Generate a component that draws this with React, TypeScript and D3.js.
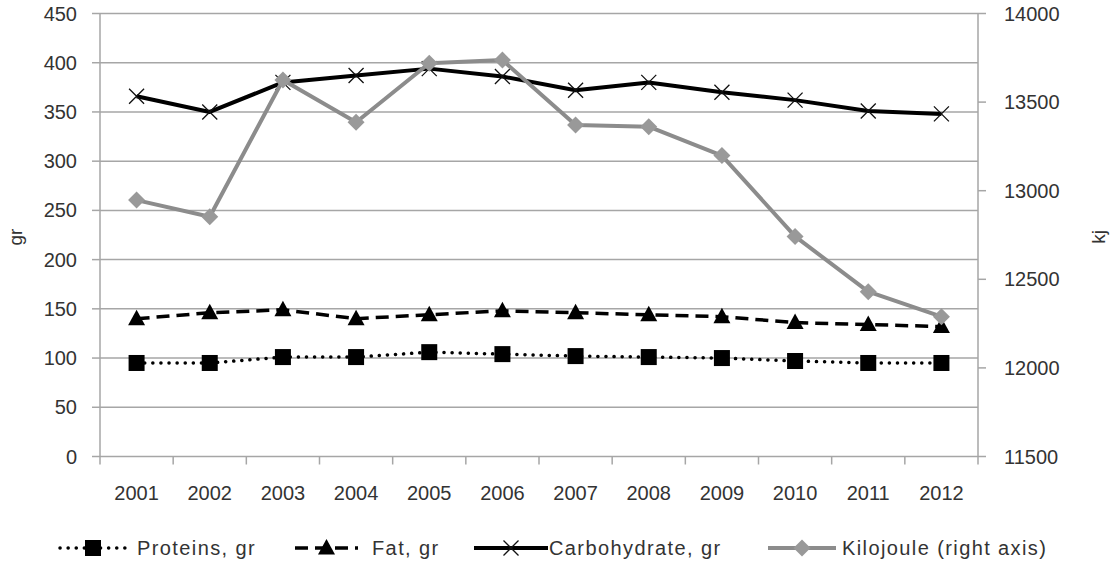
import React from "react";
import * as d3 from "d3";

const years = ["2001","2002","2003","2004","2005","2006","2007","2008","2009","2010","2011","2012"];
const proteins = [95, 95, 101, 101, 106, 104, 102, 101, 100, 97, 95, 95];
const fat = [140, 146, 149, 140, 144, 148, 146, 144, 142, 136, 134, 132];
const carbohydrate = [366, 350, 380, 387, 394, 386, 372, 380, 370, 362, 351, 348];
const kilojoule = [12947, 12853, 13625, 13386, 13719, 13737, 13371, 13361, 13198, 12742, 12430, 12289];
const leftTicks = [0, 50, 100, 150, 200, 250, 300, 350, 400, 450];
const rightTicks = [11500, 12000, 12500, 13000, 13500, 14000];

const W = 1112, H = 563;
const L = 100, R = 978, T = 13.5, B = 456.5;
const FONT = "'Liberation Sans', Arial, sans-serif";
const TXT = "#333";

export default function App() {
  const x = d3.scaleBand<string>().domain(years).range([L, R]);
  const yL = d3.scaleLinear().domain([0, 450]).range([B, T]);
  const yR = d3.scaleLinear().domain([11500, 14000]).range([B, T]);
  const cx = (y: string) => (x(y) as number) + x.bandwidth() / 2;
  const curve = d3.curveLinear;
  const lineL = d3.line<number>().x((_, i) => cx(years[i])).y((v) => yL(v)).curve(curve);
  const lineR = d3.line<number>().x((_, i) => cx(years[i])).y((v) => yR(v)).curve(curve);

  const square = (px: number, py: number, k: string) => (
    <rect key={k} x={px - 8} y={py - 8} width={16} height={16} fill="#000" />
  );
  const tri = (px: number, py: number, k: string) => (
    <path key={k} d={`M${px},${py - 9} L${px + 8.5},${py + 6.5} L${px - 8.5},${py + 6.5} Z`} fill="#000" />
  );
  const cross = (px: number, py: number, k: string) => (
    <path key={k} d={`M${px - 7.5},${py - 7.5} L${px + 7.5},${py + 7.5} M${px - 7.5},${py + 7.5} L${px + 7.5},${py - 7.5}`} stroke="#111" strokeWidth={1.3} fill="none" />
  );
  const diamond = (px: number, py: number, k: string) => (
    <path key={k} d={`M${px},${py - 8.5} L${px + 8.5},${py} L${px},${py + 8.5} L${px - 8.5},${py} Z`} fill="#999" />
  );

  const boundaries = years.map((y) => x(y) as number).concat([R]);

  const legendY = 548;
  const legend = [
    { x0: 60, x1: 126, text: "Proteins, gr", tx: 137, kind: "p" },
    { x0: 295, x1: 358, text: "Fat, gr", tx: 372, kind: "f" },
    { x0: 474, x1: 548, text: "Carbohydrate, gr", tx: 549, kind: "c" },
    { x0: 768, x1: 836, text: "Kilojoule (right axis)", tx: 842, kind: "k" },
  ];

  return (
    <svg width={W} height={H} style={{ position: "absolute", left: 0, top: 0, background: "#fff" }} fontFamily={FONT}>
      <rect width={W} height={H} fill="#fff" />
      {leftTicks.map((t) => (
        <line key={"g" + t} x1={L} x2={R} y1={yL(t)} y2={yL(t)} stroke="#a6a6a6" strokeWidth={1.5} />
      ))}
      <line x1={L} x2={L} y1={T} y2={B} stroke="#a6a6a6" strokeWidth={1.5} />
      <line x1={R} x2={R} y1={T} y2={B} stroke="#a6a6a6" strokeWidth={1.5} />
      {leftTicks.map((t) => (
        <g key={"lt" + t}>
          <line x1={L - 8} x2={L} y1={yL(t)} y2={yL(t)} stroke="#a6a6a6" strokeWidth={1.5} />
          <text x={77} y={yL(t)} textAnchor="end" dominantBaseline="central" fontSize={20} fill={TXT}>{t}</text>
        </g>
      ))}
      {rightTicks.map((t) => (
        <g key={"rt" + t}>
          <line x1={R} x2={R + 8} y1={yR(t)} y2={yR(t)} stroke="#a6a6a6" strokeWidth={1.5} />
          <text x={1004} y={yR(t)} textAnchor="start" dominantBaseline="central" fontSize={20} fill={TXT}>{t}</text>
        </g>
      ))}
      {boundaries.map((b, i) => (
        <line key={"xt" + i} x1={b} x2={b} y1={B} y2={B + 8} stroke="#a6a6a6" strokeWidth={1.5} />
      ))}
      {years.map((y) => (
        <text key={"xl" + y} x={cx(y)} y={493} textAnchor="middle" dominantBaseline="central" fontSize={20} fill={TXT}>{y}</text>
      ))}
      <text transform={`translate(15,237) rotate(-90)`} textAnchor="middle" dominantBaseline="central" fontSize={19} fill={TXT}>gr</text>
      <text transform={`translate(1098,237) rotate(-90)`} textAnchor="middle" dominantBaseline="central" fontSize={19} fill={TXT}>kj</text>

      <path d={lineL(proteins) || ""} fill="none" stroke="#000" strokeWidth={3.5} strokeDasharray="0.1 8" strokeLinecap="round" />
      <path d={lineL(fat) || ""} fill="none" stroke="#000" strokeWidth={3.5} strokeDasharray="13 7" />
      <path d={lineL(carbohydrate) || ""} fill="none" stroke="#000" strokeWidth={4} strokeLinejoin="round" />
      {proteins.map((v, i) => square(cx(years[i]), yL(v), "ps" + i))}
      {fat.map((v, i) => tri(cx(years[i]), yL(v), "ft" + i))}
      {carbohydrate.map((v, i) => cross(cx(years[i]), yL(v), "cc" + i))}
      <path d={lineR(kilojoule) || ""} fill="none" stroke="#8c8c8c" strokeWidth={4} strokeLinejoin="round" />
      {kilojoule.map((v, i) => diamond(cx(years[i]), yR(v), "kd" + i))}

      {legend.map((l) => {
        const mid = (l.x0 + l.x1) / 2;
        let line: React.ReactNode;
        let mark: React.ReactNode;
        if (l.kind === "p") {
          line = <line x1={l.x0} x2={l.x1} y1={legendY} y2={legendY} stroke="#000" strokeWidth={3.5} strokeDasharray="0.1 8" strokeLinecap="round" />;
          mark = square(mid, legendY, "lp");
        } else if (l.kind === "f") {
          line = <line x1={l.x0} x2={l.x1} y1={legendY} y2={legendY} stroke="#000" strokeWidth={3.5} strokeDasharray="13 7" />;
          mark = tri(mid, legendY, "lf");
        } else if (l.kind === "c") {
          line = <line x1={l.x0} x2={l.x1} y1={legendY} y2={legendY} stroke="#000" strokeWidth={4} />;
          mark = cross(mid, legendY, "lc");
        } else {
          line = <line x1={l.x0} x2={l.x1} y1={legendY} y2={legendY} stroke="#8c8c8c" strokeWidth={4} />;
          mark = diamond(mid, legendY, "lk");
        }
        return (
          <g key={l.text}>
            {line}
            {mark}
            <text x={l.tx} y={legendY} dominantBaseline="central" fontSize={20} letterSpacing={1.4} fill={TXT}>{l.text}</text>
          </g>
        );
      })}
    </svg>
  );
}
